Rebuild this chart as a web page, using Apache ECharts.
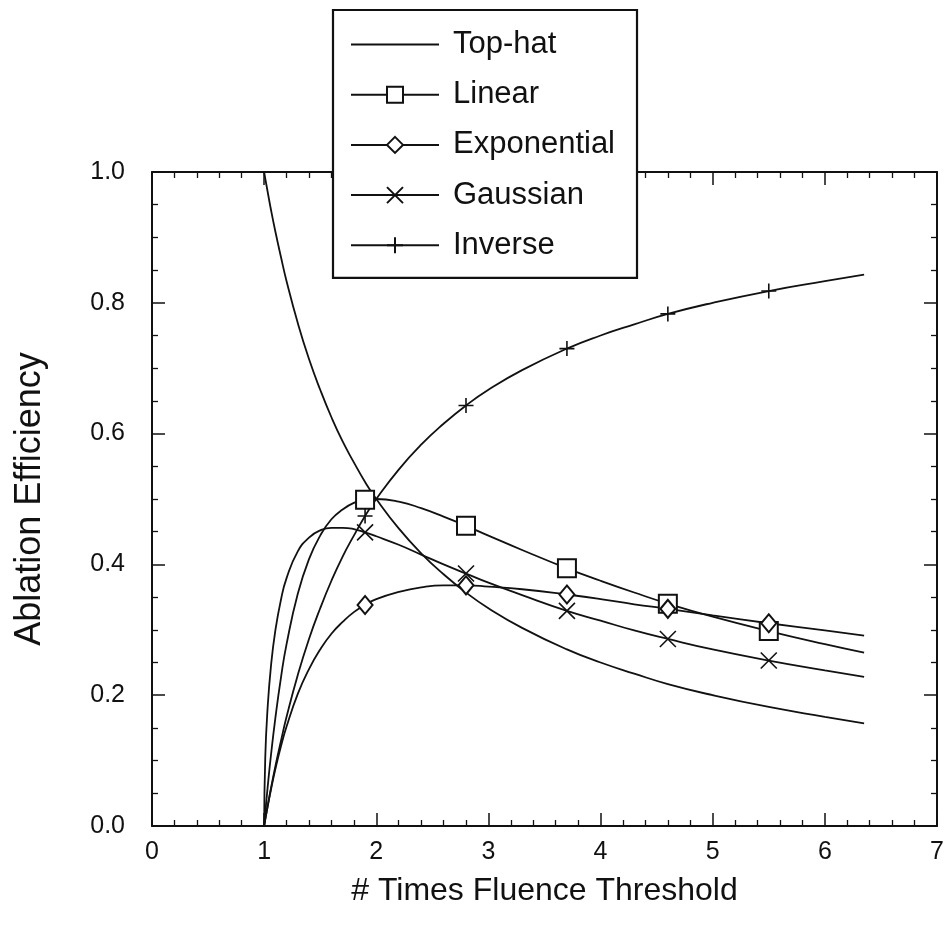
<!DOCTYPE html>
<html>
<head>
<meta charset="utf-8">
<script src="https://cdn.jsdelivr.net/npm/echarts@6/dist/echarts.min.js"></script>
<style>
html,body{margin:0;padding:0;background:#fff;}
#chart{width:949px;height:936px;}
</style>
</head>
<body>
<div id="chart"></div>
<script>
// x positions (times fluence threshold)
const xs = [1, 1.01, 1.03, 1.06, 1.1, 1.15, 1.2, 1.3, 1.4, 1.5, 1.6, 1.7, 1.8, 1.9, 2.0,
            2.2, 2.4, 2.6, 2.8, 3.0, 3.3, 3.7, 4.0, 4.3, 4.6, 5.0, 5.5, 6.0, 6.35];
// marker x positions
const markerXs = [1.9, 2.8, 3.7, 4.6, 5.5];

const topHat = [1.0, 0.990, 0.971, 0.943, 0.909, 0.870, 0.833, 0.769, 0.714, 0.667, 0.625, 0.588, 0.556, 0.526, 0.500,
                0.455, 0.417, 0.385, 0.357, 0.333, 0.303, 0.270, 0.250, 0.233, 0.217, 0.200, 0.182, 0.167, 0.157];
const linear = [0, 0.020, 0.057, 0.107, 0.165, 0.227, 0.278, 0.355, 0.408, 0.444, 0.469, 0.484, 0.494, 0.499, 0.500,
                0.496, 0.486, 0.473, 0.459, 0.444, 0.422, 0.394, 0.375, 0.357, 0.340, 0.320, 0.298, 0.278, 0.265];
const exponential = [0, 0.010, 0.029, 0.055, 0.087, 0.122, 0.152, 0.202, 0.240, 0.270, 0.294, 0.312, 0.327, 0.338, 0.347,
                0.358, 0.365, 0.368, 0.368, 0.366, 0.362, 0.354, 0.347, 0.339, 0.332, 0.322, 0.310, 0.299, 0.291];
const gaussian = [0, 0.105, 0.178, 0.243, 0.299, 0.346, 0.379, 0.420, 0.441, 0.452, 0.456, 0.456, 0.454, 0.449, 0.443,
                0.430, 0.415, 0.400, 0.386, 0.372, 0.353, 0.329, 0.314, 0.299, 0.286, 0.270, 0.253, 0.238, 0.228];
const inverse = [0, 0.010, 0.029, 0.057, 0.091, 0.130, 0.167, 0.231, 0.286, 0.333, 0.375, 0.412, 0.444, 0.474, 0.500,
                0.545, 0.583, 0.615, 0.643, 0.667, 0.697, 0.730, 0.750, 0.767, 0.783, 0.800, 0.818, 0.833, 0.843];

const seriesNames = ['Top-hat', 'Linear', 'Exponential', 'Gaussian', 'Inverse'];
const xTicks = ['0', '1', '2', '3', '4', '5', '6', '7'];
const yTicks = ['0.0', '0.2', '0.4', '0.6', '0.8', '1.0'];

const FONT = '"Liberation Sans", Arial, Helvetica, sans-serif';
const INK = '#111';

function build(vals, withMarkers) {
  return xs.map((x, i) => {
    if (withMarkers && markerXs.indexOf(x) >= 0) return [x, vals[i]];
    return { value: [x, vals[i]], symbol: 'none' };
  });
}

function mkSeries(name, vals, symbol, size, withMarkers) {
  return {
    name: name,
    type: 'line',
    smooth: 0.5,
    data: build(vals, withMarkers),
    symbol: symbol,
    symbolSize: size,
    showSymbol: withMarkers,
    showAllSymbol: true,
    color: INK,
    lineStyle: { color: INK, width: 1.8 },
    itemStyle: { color: INK, borderColor: INK, borderWidth: withMarkers ? 1.6 : 0 },
    emphasis: { disabled: true },
    animation: false
  };
}

const chart = echarts.init(document.getElementById('chart'), null, { renderer: 'canvas' });

const axisCommon = {
  type: 'value',
  axisLine: { show: true, onZero: false, lineStyle: { color: INK, width: 2 } },
  axisTick: { show: true, inside: true, length: 13, lineStyle: { color: INK, width: 1.5 } },
  minorTick: { show: true, length: 6, lineStyle: { color: INK, width: 1.3 } },
  splitLine: { show: false },
  minorSplitLine: { show: false }
};

const option = {
  backgroundColor: '#fff',
  animation: false,
  grid: { left: 152, right: 12, top: 172, bottom: 110, containLabel: false },
  legend: {
    orient: 'vertical',
    left: 333,
    top: 10,
    data: seriesNames,
    selectedMode: false,
    backgroundColor: '#fff',
    borderColor: INK,
    borderWidth: 2.2,
    padding: [19, 22, 17, 17],
    itemWidth: 88,
    itemHeight: 20,
    itemGap: 19.2,
    textStyle: { fontFamily: FONT, fontSize: 31, color: INK, lineHeight: 24, padding: [0, 0, 0, 9] }
  },
  xAxis: [
    Object.assign({}, axisCommon, {
      position: 'bottom', min: 0, max: 7, interval: 1,
      minorTick: Object.assign({}, axisCommon.minorTick, { splitNumber: 5 }),
      axisLabel: { show: true, fontFamily: FONT, fontSize: 25, color: INK, margin: 14,
                   formatter: v => xTicks[Math.round(v)] },
      name: '# Times Fluence Threshold',
      nameLocation: 'middle',
      nameGap: 49,
      nameTextStyle: { fontFamily: FONT, fontSize: 32, color: INK }
    }),
    Object.assign({}, axisCommon, {
      position: 'top', min: 0, max: 7, interval: 1,
      minorTick: Object.assign({}, axisCommon.minorTick, { splitNumber: 5 }),
      axisLabel: { show: false }
    })
  ],
  yAxis: [
    Object.assign({}, axisCommon, {
      position: 'left', min: 0, max: 1, interval: 0.2,
      minorTick: Object.assign({}, axisCommon.minorTick, { splitNumber: 4 }),
      axisLabel: { show: true, fontFamily: FONT, fontSize: 25, color: INK, margin: 27,
                   formatter: v => yTicks[Math.round(v * 5)] },
      name: 'Ablation Efficiency',
      nameLocation: 'middle',
      nameGap: 104,
      nameRotate: 90,
      nameTextStyle: { fontFamily: FONT, fontSize: 36, color: INK }
    }),
    Object.assign({}, axisCommon, {
      position: 'right', min: 0, max: 1, interval: 0.2,
      minorTick: Object.assign({}, axisCommon.minorTick, { splitNumber: 4 }),
      axisLabel: { show: false }
    })
  ],
  series: [
    mkSeries('Top-hat', topHat, 'path://M0,0L0.001,0M0,5L10,5M0,10L0.001,10', 10, false),
    mkSeries('Linear', linear, 'emptyRect', 18, true),
    mkSeries('Exponential', exponential, 'emptyDiamond', [15, 18], true),
    mkSeries('Gaussian', gaussian, 'path://M0,0L10,10M10,0L0,10', 16, true),
    mkSeries('Inverse', inverse, 'path://M5,0L5,10M0,5L10,5', 15, true)
  ]
};

chart.setOption(option);
</script>
</body>
</html>
